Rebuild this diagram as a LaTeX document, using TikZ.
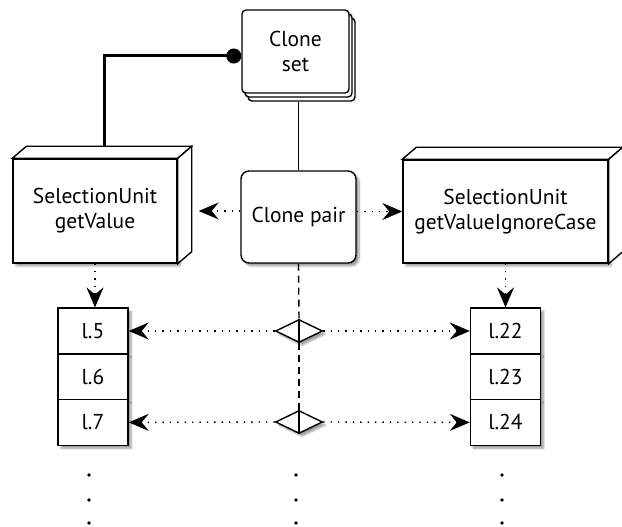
\documentclass[tikz,border=0pt]{standalone}
\usepackage{fontspec}
\setmainfont{PT Sans}
\usetikzlibrary{arrows.meta,shapes.geometric,shadows,shadows.blur}

\begin{document}
\begin{tikzpicture}[>={Stealth[length=20bp,width=17bp,inset=7bp]},line join=miter,
  every node/.style={font=\fontsize{21.5bp}{25bp}\selectfont,align=center,inner sep=0pt},
  box/.style={draw,line width=1.4bp,fill=white,
    blur shadow={shadow xshift=3bp,shadow yshift=-3bp,shadow blur steps=6}},
  row/.style={box,minimum width=70bp,minimum height=45.7bp},
  link/.style={dash pattern=on 1.4bp off 6bp,line width=1.4bp},
  dashline/.style={dash pattern=on 7bp off 5bp,line width=1.4bp},
  ]
  \useasboundingbox (0,0) rectangle (622bp,527bp);
  % clone set and clone pair
  \node (cset) at (295.5bp,475.5bp) [box,rounded corners=4bp,minimum width=107bp,
    minimum height=83bp,double copy shadow={shadow xshift=3bp,shadow yshift=-4bp}]
    {Clone\\set};
  \node (cpair) at (298.5bp,310bp) [box,rounded corners=8bp,minimum width=115bp,
    minimum height=92bp] {Clone pair};
  % selection units, drawn as cubes
  \node (sel1) at (95bp,316bp) [box,minimum width=164bp,minimum height=104bp]
    {SelectionUnit\\getValue};
  \node (sel2) at (505.5bp,315.5bp) [box,minimum width=205bp,minimum height=103bp]
    {SelectionUnit\\getValueIgnoreCase};
  \foreach \c in {sel1,sel2} {
    \draw [line width=1.4bp,fill=white] (\c.north west) -- ++(14bp,12bp)
      -- ([shift={(14bp,12bp)}]\c.north east) -- (\c.north east) -- cycle;
    \draw [line width=1.4bp,fill=white] (\c.north east) -- ++(14bp,12bp)
      -- ([shift={(14bp,12bp)}]\c.south east) -- (\c.south east) -- cycle;
  }
  % line tables
  \node (l5) at (93bp,196bp) [row] {l.5};
  \node (l6) at (93bp,150.3bp) [row] {l.6};
  \node (l7) at (93bp,104.6bp) [row] {l.7};
  \node (r22) at (505.5bp,196bp) [row] {l.22};
  \node (r23) at (505.5bp,150.3bp) [row] {l.23};
  \node (r24) at (505.5bp,104.6bp) [row] {l.24};
  \node (d1) at (299bp,196bp) [draw,diamond,line width=1.4bp,fill=white,
    minimum width=47bp,minimum height=23bp,
    blur shadow={shadow xshift=3bp,shadow yshift=-3bp}] {};
  \node (d2) at (299bp,105bp) [draw,diamond,line width=1.4bp,fill=white,
    minimum width=47bp,minimum height=23bp,
    blur shadow={shadow xshift=3bp,shadow yshift=-3bp}] {};
  \coordinate (s1top) at (104bp,380bp);
  % connectors
  \draw [line width=3bp,-{Circle[length=15bp]}] (s1top)
    |- ([yshift=-4.5bp]cset.west);
  \draw [line width=1bp] ([yshift=-8bp]cpair.north |- cset.south) -- (cpair.north);
  \draw [link,->] (cpair.west |- sel1.east) -- ([xshift=21bp]sel1.east);
  \draw [link,->] (cpair.east |- sel2.west) -- (sel2.west);
  \draw [link,->] (sel1.south) -- (sel1.south |- l5.north);
  \draw [link,->] (sel2.south) -- (r22.north);
  \draw [dashline] (cpair.south) -- (d1.north);
  \draw [line width=1.4bp] (d1.north) -- (d1.south);
  \draw [dashline] (d1.south) -- (d2.north);
  \draw [line width=1.4bp] (d2.north) -- (d2.south);
  \draw [link,->] (d1.west) -- (l5.east);
  \draw [link,->] (d1.east) -- (r22.west);
  \draw [link,->] (d2.west) -- (l7.east);
  \draw [link,->] (d2.east) -- (r24.west);
  % continuation dots
  \foreach \x in {89,296,502}
    \foreach \y in {52,27,4}
      \fill (\x bp,\y bp) circle (1.9bp);
\end{tikzpicture}
\end{document}
